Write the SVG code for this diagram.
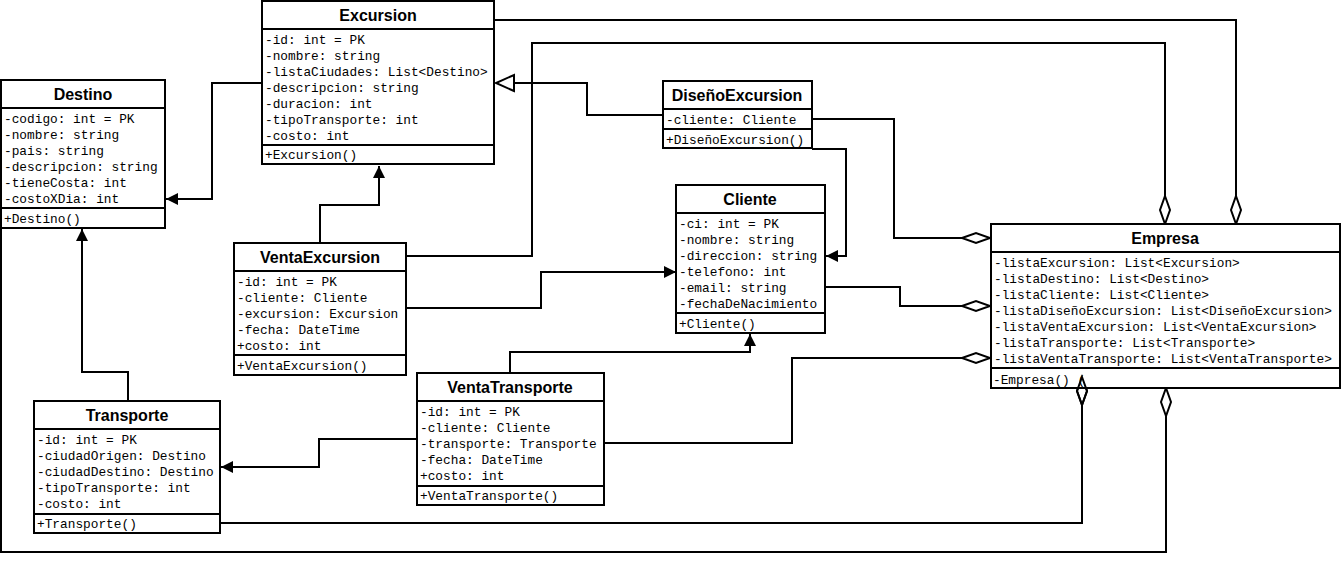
<svg xmlns="http://www.w3.org/2000/svg" width="1342" height="569" viewBox="0 0 1342 569">
  <style>
    .box { fill: #ffffff; stroke: #000000; stroke-width: 2; }
    .sep { stroke: #000000; stroke-width: 2; }
    .title { font-family: "Liberation Sans", Arial, sans-serif; font-weight: bold; font-size: 16px; text-anchor: middle; fill: #000000; }
    .attr { font-family: "Liberation Mono", "Courier New", monospace; font-size: 12.8px; fill: #000000; }
    .conn { fill: none; stroke: #000000; stroke-width: 2; }
  </style>
  <defs>
    <marker id="arrow" markerUnits="userSpaceOnUse" viewBox="0 0 12 12" refX="12" refY="6" markerWidth="12" markerHeight="12" orient="auto" overflow="visible">
      <path d="M0,0 L12,6 L0,12 z" fill="#000000"/>
    </marker>
    <marker id="diamond" markerUnits="userSpaceOnUse" viewBox="0 0 28 12" refX="28" refY="6" markerWidth="28" markerHeight="12" orient="auto" overflow="visible">
      <path d="M0,6 L14,1 L28,6 L14,11 z" fill="#ffffff" stroke="#000000" stroke-width="2"/>
    </marker>
    <marker id="triangle" markerUnits="userSpaceOnUse" viewBox="0 0 18 16" refX="18" refY="8" markerWidth="18" markerHeight="16" orient="auto" overflow="visible">
      <path d="M0,0 L18,8 L0,16 z" fill="#ffffff" stroke="#000000" stroke-width="2"/>
    </marker>
  </defs>

  <rect width="1342" height="569" fill="#ffffff"/>

  <!-- connectors -->
  <g id="connectors">
    <!-- Excursion -> Destino -->
    <path class="conn" d="M262,83 H212 V199 H166" marker-end="url(#arrow)"/>
    <!-- VentaExcursion -> Excursion -->
    <path class="conn" d="M320,243 V205 H379 V166" marker-end="url(#arrow)"/>
    <!-- DiseñoExcursion extends Excursion -->
    <path class="conn" d="M663,115 H587 V83 H496" marker-end="url(#triangle)"/>
    <!-- DiseñoExcursion -> Cliente -->
    <path class="conn" d="M812,149 H846 V256 H826" marker-end="url(#arrow)"/>
    <!-- DiseñoExcursion -> Empresa -->
    <path class="conn" d="M812,119 H894 V238 H990" marker-end="url(#diamond)"/>
    <!-- VentaExcursion -> Cliente -->
    <path class="conn" d="M406,308 H541 V272 H676" marker-end="url(#arrow)"/>
    <!-- VentaExcursion -> Empresa -->
    <path class="conn" d="M406,256 H532 V43 H1165 V224" marker-end="url(#diamond)"/>
    <!-- Excursion -> Empresa -->
    <path class="conn" d="M494,20 H1236 V224" marker-end="url(#diamond)"/>
    <!-- Cliente -> Empresa -->
    <path class="conn" d="M825,287 H900 V306 H990" marker-end="url(#diamond)"/>
    <!-- VentaTransporte -> Cliente -->
    <path class="conn" d="M510,373 V352 H750 V334" marker-end="url(#arrow)"/>
    <!-- VentaTransporte -> Transporte -->
    <path class="conn" d="M417,439 H319 V467 H221" marker-end="url(#arrow)"/>
    <!-- VentaTransporte -> Empresa -->
    <path class="conn" d="M604,443 H792 V358 H990" marker-end="url(#diamond)"/>
    <!-- Transporte -> Destino -->
    <path class="conn" d="M128,401 V372 H82 V229" marker-end="url(#arrow)"/>
    <!-- Transporte -> Empresa -->
    <path class="conn" d="M220,523 H1082 V377" marker-end="url(#diamond)"/>
    <!-- Destino -> Empresa -->
    <path class="conn" d="M1,228 V552 H1166 V388" marker-end="url(#diamond)"/>
  </g>

  <!-- Excursion -->
  <g id="excursion">
    <rect class="box" x="262" y="1" width="232" height="163"/>
    <line class="sep" x1="262" y1="29" x2="494" y2="29"/>
    <line class="sep" x1="262" y1="145" x2="494" y2="145"/>
    <text class="title" x="378" y="21">Excursion</text>
    <text class="attr" x="265" y="44">-id: int = PK</text>
    <text class="attr" x="265" y="60">-nombre: string</text>
    <text class="attr" x="265" y="76">-listaCiudades: List&lt;Destino&gt;</text>
    <text class="attr" x="265" y="92">-descripcion: string</text>
    <text class="attr" x="265" y="108">-duracion: int</text>
    <text class="attr" x="265" y="124">-tipoTransporte: int</text>
    <text class="attr" x="265" y="140">-costo: int</text>
    <text class="attr" x="265" y="159">+Excursion()</text>
  </g>

  <!-- Destino -->
  <g id="destino">
    <rect class="box" x="1" y="80" width="164" height="148"/>
    <line class="sep" x1="1" y1="108" x2="165" y2="108"/>
    <line class="sep" x1="1" y1="208" x2="165" y2="208"/>
    <text class="title" x="83" y="100">Destino</text>
    <text class="attr" x="4" y="123">-codigo: int = PK</text>
    <text class="attr" x="4" y="139">-nombre: string</text>
    <text class="attr" x="4" y="155">-pais: string</text>
    <text class="attr" x="4" y="171">-descripcion: string</text>
    <text class="attr" x="4" y="187">-tieneCosta: int</text>
    <text class="attr" x="4" y="203">-costoXDia: int</text>
    <text class="attr" x="4" y="223">+Destino()</text>
  </g>

  <!-- DiseñoExcursion -->
  <g id="disenoExcursion">
    <rect class="box" x="663" y="81" width="149" height="67"/>
    <line class="sep" x1="663" y1="109" x2="812" y2="109"/>
    <line class="sep" x1="663" y1="129" x2="812" y2="129"/>
    <text class="title" x="737" y="101">DiseñoExcursion</text>
    <text class="attr" x="666" y="124">-cliente: Cliente</text>
    <text class="attr" x="666" y="144">+DiseñoExcursion()</text>
  </g>

  <!-- Cliente -->
  <g id="cliente">
    <rect class="box" x="676" y="185" width="149" height="148"/>
    <line class="sep" x1="676" y1="213" x2="825" y2="213"/>
    <line class="sep" x1="676" y1="313" x2="825" y2="313"/>
    <text class="title" x="750" y="205">Cliente</text>
    <text class="attr" x="679" y="228">-ci: int = PK</text>
    <text class="attr" x="679" y="244">-nombre: string</text>
    <text class="attr" x="679" y="260">-direccion: string</text>
    <text class="attr" x="679" y="276">-telefono: int</text>
    <text class="attr" x="679" y="292">-email: string</text>
    <text class="attr" x="679" y="308">-fechaDeNacimiento</text>
    <text class="attr" x="679" y="328">+Cliente()</text>
  </g>

  <!-- VentaExcursion -->
  <g id="ventaExcursion">
    <rect class="box" x="234" y="243" width="172" height="132"/>
    <line class="sep" x1="234" y1="271" x2="406" y2="271"/>
    <line class="sep" x1="234" y1="355" x2="406" y2="355"/>
    <text class="title" x="320" y="263">VentaExcursion</text>
    <text class="attr" x="237" y="286">-id: int = PK</text>
    <text class="attr" x="237" y="302">-cliente: Cliente</text>
    <text class="attr" x="237" y="318">-excursion: Excursion</text>
    <text class="attr" x="237" y="334">-fecha: DateTime</text>
    <text class="attr" x="237" y="350">+costo: int</text>
    <text class="attr" x="237" y="370">+VentaExcursion()</text>
  </g>

  <!-- VentaTransporte -->
  <g id="ventaTransporte">
    <rect class="box" x="417" y="373" width="187" height="132"/>
    <line class="sep" x1="417" y1="401" x2="604" y2="401"/>
    <line class="sep" x1="417" y1="486" x2="604" y2="486"/>
    <text class="title" x="510" y="393">VentaTransporte</text>
    <text class="attr" x="420" y="416">-id: int = PK</text>
    <text class="attr" x="420" y="432">-cliente: Cliente</text>
    <text class="attr" x="420" y="448">-transporte: Transporte</text>
    <text class="attr" x="420" y="464">-fecha: DateTime</text>
    <text class="attr" x="420" y="480">+costo: int</text>
    <text class="attr" x="420" y="500">+VentaTransporte()</text>
  </g>

  <!-- Transporte -->
  <g id="transporte">
    <rect class="box" x="34" y="401" width="186" height="132"/>
    <line class="sep" x1="34" y1="429" x2="220" y2="429"/>
    <line class="sep" x1="34" y1="514" x2="220" y2="514"/>
    <text class="title" x="127" y="421">Transporte</text>
    <text class="attr" x="37" y="444">-id: int = PK</text>
    <text class="attr" x="37" y="460">-ciudadOrigen: Destino</text>
    <text class="attr" x="37" y="476">-ciudadDestino: Destino</text>
    <text class="attr" x="37" y="492">-tipoTransporte: int</text>
    <text class="attr" x="37" y="508">-costo: int</text>
    <text class="attr" x="37" y="528">+Transporte()</text>
  </g>

  <!-- Empresa -->
  <g id="empresa">
    <rect class="box" x="991" y="224" width="349" height="164"/>
    <line class="sep" x1="991" y1="252" x2="1340" y2="252"/>
    <line class="sep" x1="991" y1="368" x2="1340" y2="368"/>
    <text class="title" x="1165" y="244">Empresa</text>
    <text class="attr" x="994" y="267">-listaExcursion: List&lt;Excursion&gt;</text>
    <text class="attr" x="994" y="283">-listaDestino: List&lt;Destino&gt;</text>
    <text class="attr" x="994" y="299">-listaCliente: List&lt;Cliente&gt;</text>
    <text class="attr" x="994" y="315">-listaDiseñoExcursion: List&lt;DiseñoExcursion&gt;</text>
    <text class="attr" x="994" y="331">-listaVentaExcursion: List&lt;VentaExcursion&gt;</text>
    <text class="attr" x="994" y="347">-listaTransporte: List&lt;Transporte&gt;</text>
    <text class="attr" x="994" y="363">-listaVentaTransporte: List&lt;VentaTransporte&gt;</text>
    <text class="attr" x="993" y="384">-Empresa() (</text>
  </g>

  <!-- outline of the lower-left diamond where it overlaps the Empresa box -->
  <path d="M1082,377 L1087,391 L1082,405 L1077,391 z" fill="none" stroke="#000000" stroke-width="2"/>
</svg>
